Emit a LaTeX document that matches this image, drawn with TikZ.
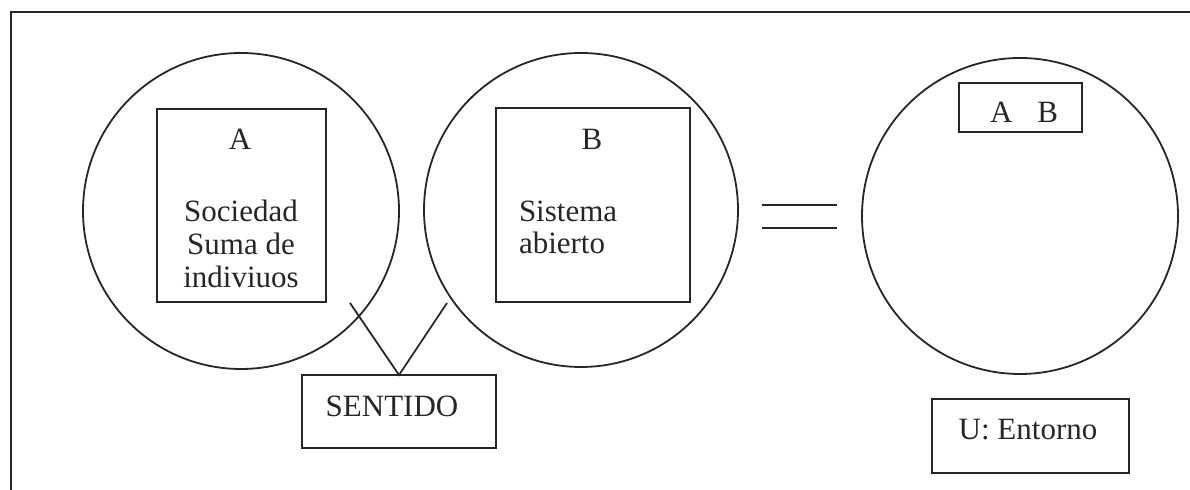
\documentclass[tikz,border=0pt]{standalone}
\usepackage{fontspec}
\setmainfont{Liberation Serif}
\begin{document}
\begin{tikzpicture}[x=0.5pt,y=-0.5pt,
  every node/.style={inner sep=0pt, outer sep=0pt},
  ink/.style={line width=0.9pt, draw=black!85},
  ring/.style={ink, circle, minimum size=#1},
  frame/.style={ink, rectangle},
  lbl/.style={font=\fontsize{15.5pt}{17pt}\selectfont, anchor=base, text=black!85},
  lblw/.style={lbl, anchor=base west}]
\useasboundingbox (0,0) rectangle (1190,490);
% page frame (right and bottom edges cut off)
\draw[ink] (11,490) -- (11,12) -- (1190,12);
% circles
\node[ring=158pt] (cA) at (241,211) {};
\node[ring=157pt] (cB) at (581,210) {};
\node[ring=158pt] (cU) at (1020,216) {};
% boxes
\node[frame, minimum width=84.5pt, minimum height=96.5pt] (bA) at (241.5,205.5) {};
\node[frame, minimum width=97pt, minimum height=97pt] (bB) at (593,205) {};
\node[frame, minimum width=61.5pt, minimum height=24.5pt] (bAB) at (1020.5,107.5) {};
\node[frame, minimum width=97pt, minimum height=36.5pt] (sent) at (399,411.5) {};
\node[frame, minimum width=98.5pt, minimum height=37pt] (ubox) at (1030.5,436) {};
% texts
\node[lbl] (tA) at (240,150) {A};
\node[lbl] (tA1) at (241,222) {Sociedad};
\node[lbl] (tA2) at (241,255) {Suma de};
\node[lbl] (tA3) at (241,288) {indiviuos};
\node[lbl] (tB) at (592,150) {B};
\node[lblw] (tB1) at (519,222) {Sistema};
\node[lblw] (tB2) at (519,254) {abierto};
\node[lbl] (tAB) at (1024,123) {A\hspace{0.8em}B};
\node[lbl] (tS) at (392,417) {SENTIDO};
\node[lbl] (tU) at (1028,440) {U: Entorno};
% equals sign
\coordinate (e1) at (762,205); \coordinate (e2) at (837,205);
\coordinate (e3) at (762,228); \coordinate (e4) at (837,228);
\draw[ink] (e1) -- (e2);
\draw[ink] (e3) -- (e4);
% connectors to SENTIDO
\coordinate (la) at (350,303);
\coordinate (lb) at (447,303);
\draw[ink] (la) -- (sent.north) -- (lb);
\end{tikzpicture}
\end{document}
